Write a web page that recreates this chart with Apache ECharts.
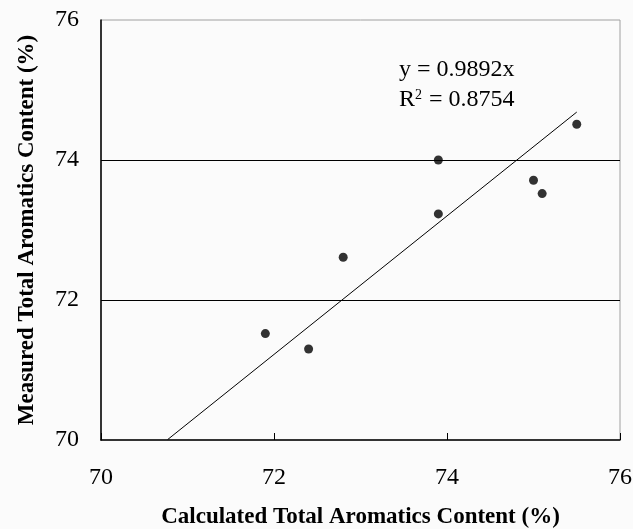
<!DOCTYPE html>
<html>
<head>
<meta charset="utf-8">
<script src="https://cdn.jsdelivr.net/npm/echarts@6/dist/echarts.min.js"></script>
<style>
  html, body { margin: 0; padding: 0; background: #fbfbfb; }
  #chart { width: 633px; height: 529px; }
</style>
</head>
<body>
<div id="chart"></div>
<script>
// measured vs calculated points
const calcX = [71.9, 72.4, 72.8, 73.9, 73.9, 75.0, 75.1, 75.5];
const measY = [71.52, 71.3, 72.61, 74.0, 73.23, 73.71, 73.52, 74.51];
// trend line through origin, y = 0.9892x
const slope = 0.9892;
const trendX = [70.77, 75.5];
const axisTicks = [70, 72, 74, 76];

const font = '"Liberation Serif", "Times New Roman", serif';

let points = [];
for (let i = 0; i < calcX.length; i++) {
  points.push([calcX[i], measY[i]]);
}
let trend = trendX.map(function (x) { return [x, slope * x]; });

const chart = echarts.init(document.getElementById('chart'));
chart.setOption({
  backgroundColor: '#fbfbfb',
  animation: false,
  grid: {
    left: 101, top: 20, right: 13, bottom: 89,
    outerBoundsMode: 'none',
    show: true,
    borderColor: '#a0a0a0',
    borderWidth: 1
  },
  xAxis: {
    type: 'value',
    min: axisTicks[0], max: axisTicks[axisTicks.length - 1], interval: 2,
    name: 'Calculated Total Aromatics Content (%)',
    nameLocation: 'middle',
    nameGap: 66,
    nameTextStyle: { fontFamily: font, fontSize: 23, fontWeight: 'bold', color: '#000' },
    axisLine: { show: true, lineStyle: { color: '#000', width: 1.5 } },
    axisTick: { show: true, inside: true, length: 7, lineStyle: { color: '#000' } },
    axisLabel: { fontFamily: font, fontSize: 24, color: '#000', margin: 26 },
    splitLine: { show: false }
  },
  yAxis: {
    type: 'value',
    min: axisTicks[0], max: axisTicks[axisTicks.length - 1], interval: 2,
    name: 'Measured Total Aromatics Content (%)',
    nameLocation: 'middle',
    nameGap: 62,
    nameTextStyle: { fontFamily: font, fontSize: 23, fontWeight: 'bold', color: '#000' },
    axisLine: { show: true, lineStyle: { color: '#000', width: 1.5 } },
    axisTick: { show: false },
    axisLabel: { fontFamily: font, fontSize: 24, color: '#000', margin: 22 },
    splitLine: {
      show: true, showMinLine: false, showMaxLine: false,
      lineStyle: { color: '#000', width: 1.2 }
    }
  },
  series: [
    {
      type: 'line',
      data: trend,
      symbol: 'none',
      lineStyle: { color: '#000', width: 1 },
      silent: true
    },
    {
      type: 'scatter',
      data: points,
      symbol: 'circle',
      symbolSize: 9,
      itemStyle: { color: '#000' }
    }
  ],
  graphic: [
    {
      type: 'text', left: 399, top: 58,
      style: { text: 'y = 0.9892x', font: '24px ' + font, fill: '#000' }
    },
    {
      type: 'text', left: 399, top: 88,
      style: {
        text: 'R{sup|2} = 0.8754',
        font: '24px ' + font,
        fill: '#000',
        rich: {
          sup: { fontFamily: font, fontSize: 14, verticalAlign: 'top', padding: [0, 1, 10, 0] }
        }
      }
    }
  ]
});
window.addEventListener('resize', function () { chart.resize(); });
</script>
</body>
</html>
